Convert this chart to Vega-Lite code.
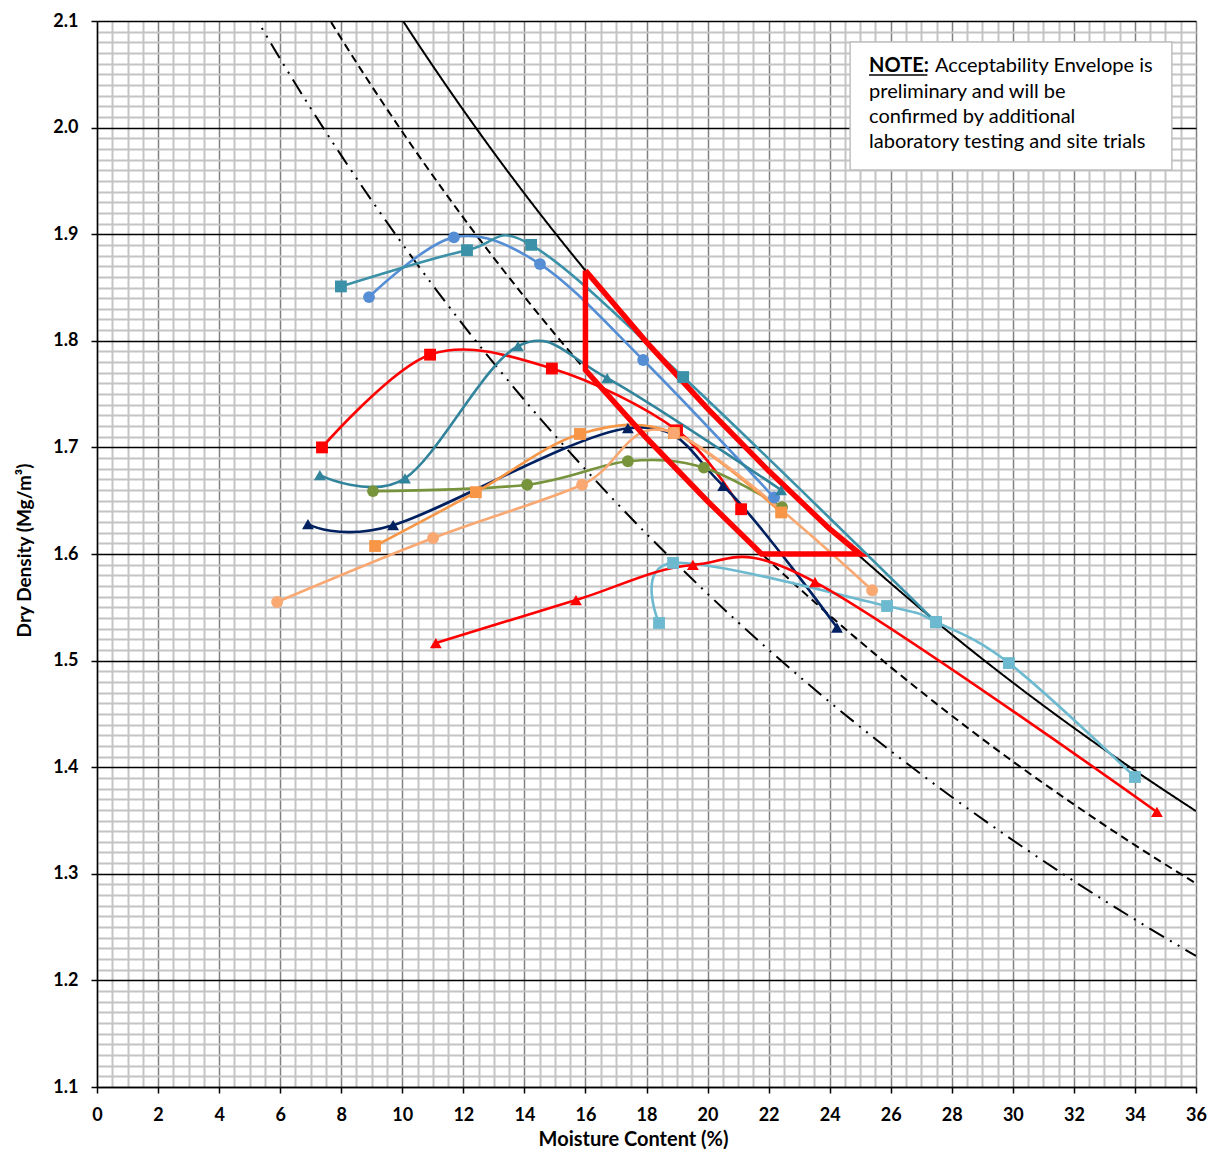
{
  "$schema": "https://vega.github.io/schema/vega-lite/v6.json",
  "width": 1099,
  "height": 1066,
  "autosize": {"type": "none"},
  "padding": {"left": 97, "top": 21, "right": 13, "bottom": 66},
  "background": "white",
  "config": {"view": {"stroke": null}, "font": "Lato"},
  "datasets": {
    "ref": [
      {"line": "0%", "w": 9, "rho": 2.1462}, {"line": "0%", "w": 10, "rho": 2.1011}, {"line": "0%", "w": 11, "rho": 2.0579},
      {"line": "0%", "w": 12, "rho": 2.0164}, {"line": "0%", "w": 13, "rho": 1.9765}, {"line": "0%", "w": 14, "rho": 1.9382},
      {"line": "0%", "w": 16, "rho": 1.8659}, {"line": "0%", "w": 18, "rho": 1.7988}, {"line": "0%", "w": 20, "rho": 1.7363},
      {"line": "0%", "w": 22, "rho": 1.6780}, {"line": "0%", "w": 24, "rho": 1.6235}, {"line": "0%", "w": 26, "rho": 1.5725},
      {"line": "0%", "w": 28, "rho": 1.5245}, {"line": "0%", "w": 30, "rho": 1.4794}, {"line": "0%", "w": 32, "rho": 1.4369},
      {"line": "0%", "w": 34, "rho": 1.3968}, {"line": "0%", "w": 36, "rho": 1.3588},
      {"line": "5%", "w": 7, "rho": 2.1303}, {"line": "5%", "w": 8, "rho": 2.0836}, {"line": "5%", "w": 9, "rho": 2.0389},
      {"line": "5%", "w": 10, "rho": 1.9961}, {"line": "5%", "w": 12, "rho": 1.9155}, {"line": "5%", "w": 14, "rho": 1.8413},
      {"line": "5%", "w": 16, "rho": 1.7726}, {"line": "5%", "w": 18, "rho": 1.7088}, {"line": "5%", "w": 20, "rho": 1.6495},
      {"line": "5%", "w": 22, "rho": 1.5941}, {"line": "5%", "w": 24, "rho": 1.5424}, {"line": "5%", "w": 26, "rho": 1.4939},
      {"line": "5%", "w": 28, "rho": 1.4483}, {"line": "5%", "w": 30, "rho": 1.4054}, {"line": "5%", "w": 32, "rho": 1.3651},
      {"line": "5%", "w": 34, "rho": 1.3269}, {"line": "5%", "w": 36, "rho": 1.2909},
      {"line": "10%", "w": 5, "rho": 2.1130}, {"line": "10%", "w": 6, "rho": 2.0645}, {"line": "10%", "w": 7, "rho": 2.0182},
      {"line": "10%", "w": 8, "rho": 1.9739}, {"line": "10%", "w": 10, "rho": 1.8910}, {"line": "10%", "w": 12, "rho": 1.8147},
      {"line": "10%", "w": 14, "rho": 1.7444}, {"line": "10%", "w": 16, "rho": 1.6793}, {"line": "10%", "w": 18, "rho": 1.6189},
      {"line": "10%", "w": 20, "rho": 1.5627}, {"line": "10%", "w": 22, "rho": 1.5102}, {"line": "10%", "w": 24, "rho": 1.4612},
      {"line": "10%", "w": 26, "rho": 1.4152}, {"line": "10%", "w": 28, "rho": 1.3721}, {"line": "10%", "w": 30, "rho": 1.3315},
      {"line": "10%", "w": 32, "rho": 1.2932}, {"line": "10%", "w": 34, "rho": 1.2571}, {"line": "10%", "w": 36, "rho": 1.2229}
    ],
    "env": [
      {"i": 0, "w": 16, "rho": 1.8659}, {"i": 1, "w": 16, "rho": 1.7726}, {"i": 2, "w": 18, "rho": 1.7088},
      {"i": 3, "w": 20, "rho": 1.6495}, {"i": 4, "w": 21.77, "rho": 1.6}, {"i": 5, "w": 25, "rho": 1.6},
      {"i": 6, "w": 24, "rho": 1.6235}, {"i": 7, "w": 22, "rho": 1.678}, {"i": 8, "w": 20, "rho": 1.7363},
      {"i": 9, "w": 18, "rho": 1.7988}, {"i": 10, "w": 16, "rho": 1.8659}
    ],
    "tests": [
      {"test": "T1", "w": 8.91, "rho": 1.841}, {"test": "T1", "w": 11.69, "rho": 1.897}, {"test": "T1", "w": 14.51, "rho": 1.872},
      {"test": "T1", "w": 17.89, "rho": 1.782}, {"test": "T1", "w": 22.18, "rho": 1.653},
      {"test": "T2", "w": 7.99, "rho": 1.851}, {"test": "T2", "w": 12.12, "rho": 1.885}, {"test": "T2", "w": 14.22, "rho": 1.89},
      {"test": "T2", "w": 19.2, "rho": 1.766}, {"test": "T2", "w": 27.48, "rho": 1.536},
      {"test": "T3", "w": 7.37, "rho": 1.7}, {"test": "T3", "w": 10.91, "rho": 1.787}, {"test": "T3", "w": 14.9, "rho": 1.774},
      {"test": "T3", "w": 19.0, "rho": 1.716}, {"test": "T3", "w": 21.1, "rho": 1.642},
      {"test": "T4", "w": 7.3, "rho": 1.674}, {"test": "T4", "w": 10.09, "rho": 1.671}, {"test": "T4", "w": 13.79, "rho": 1.795},
      {"test": "T4", "w": 16.71, "rho": 1.765}, {"test": "T4", "w": 22.41, "rho": 1.66},
      {"test": "T5", "w": 6.91, "rho": 1.628}, {"test": "T5", "w": 9.7, "rho": 1.627}, {"test": "T5", "w": 17.39, "rho": 1.718},
      {"test": "T5", "w": 20.51, "rho": 1.664}, {"test": "T5", "w": 24.24, "rho": 1.531},
      {"test": "T6", "w": 9.04, "rho": 1.659}, {"test": "T6", "w": 14.09, "rho": 1.665}, {"test": "T6", "w": 17.39, "rho": 1.687},
      {"test": "T6", "w": 19.88, "rho": 1.681}, {"test": "T6", "w": 22.44, "rho": 1.644},
      {"test": "T7", "w": 9.11, "rho": 1.6075}, {"test": "T7", "w": 12.41, "rho": 1.658}, {"test": "T7", "w": 15.82, "rho": 1.7126},
      {"test": "T7", "w": 18.9, "rho": 1.7135}, {"test": "T7", "w": 22.41, "rho": 1.639},
      {"test": "T8", "w": 5.9, "rho": 1.555}, {"test": "T8", "w": 11.01, "rho": 1.615}, {"test": "T8", "w": 15.89, "rho": 1.665},
      {"test": "T8", "w": 18.9, "rho": 1.7135}, {"test": "T8", "w": 25.39, "rho": 1.566},
      {"test": "T9", "w": 18.41, "rho": 1.5353}, {"test": "T9", "w": 18.87, "rho": 1.5916}, {"test": "T9", "w": 25.88, "rho": 1.5512},
      {"test": "T9", "w": 27.48, "rho": 1.5362}, {"test": "T9", "w": 29.87, "rho": 1.4977}, {"test": "T9", "w": 34.0, "rho": 1.3908},
      {"test": "T10", "w": 11.1, "rho": 1.5165}, {"test": "T10", "w": 15.69, "rho": 1.5568}, {"test": "T10", "w": 19.52, "rho": 1.5897},
      {"test": "T10", "w": 23.52, "rho": 1.5737}, {"test": "T10", "w": 34.72, "rho": 1.358}
    ]
  },
  "layer": [
    {
      "data": {"name": "ref"},
      "mark": {"type": "line", "clip": true, "strokeWidth": 2, "color": "#000000", "interpolate": "monotone"},
      "encoding": {
        "x": {
          "field": "w", "type": "quantitative",
          "scale": {"domain": [0, 36], "nice": false, "zero": false},
          "axis": {
            "title": "Moisture Content (%)",
            "values": [0,0.5,1,1.5,2,2.5,3,3.5,4,4.5,5,5.5,6,6.5,7,7.5,8,8.5,9,9.5,10,10.5,11,11.5,12,12.5,13,13.5,14,14.5,15,15.5,16,16.5,17,17.5,18,18.5,19,19.5,20,20.5,21,21.5,22,22.5,23,23.5,24,24.5,25,25.5,26,26.5,27,27.5,28,28.5,29,29.5,30,30.5,31,31.5,32,32.5,33,33.5,34,34.5,35,35.5,36],
            "tickCount": 500,
            "labelExpr": "datum.value % 2 === 0 ? format(datum.value, 'd') : ''",
            "labelOverlap": false, "labelFlush": false, "labelBound": false,
            "labelFont": "Lato", "labelFontSize": 18, "labelFontWeight": "bold", "labelColor": "#000000",
            "labelBaseline": "alphabetic", "labelPadding": 27,
            "tickSize": 6, "tickWidth": 1.5, "tickColor": "#000000",
            "tickOpacity": {"condition": {"test": "datum.value % 2 === 0", "value": 1}, "value": 0},
            "domainColor": "#000000", "domainWidth": 1.5,
            "grid": true,
            "gridColor": {"condition": {"test": "datum.value % 2 === 0", "value": "#808080"}, "value": "#c4c4c4"},
            "gridWidth": {"condition": {"test": "datum.value % 2 === 0", "value": 1.5}, "value": 2},
            "titleFont": "Lato", "titleFontSize": 20, "titleFontWeight": "bold", "titleColor": "#000000",
            "titleX": 536, "titleY": 58, "titleBaseline": "alphabetic", "titleAlign": "center"
          }
        },
        "y": {
          "field": "rho", "type": "quantitative",
          "scale": {"domain": [1.1, 2.1], "nice": false, "zero": false},
          "axis": {
            "title": "Dry Density (Mg/m³)",
            "values": [1.1,1.11,1.12,1.13,1.14,1.15,1.16,1.17,1.18,1.19,1.2,1.21,1.22,1.23,1.24,1.25,1.26,1.27,1.28,1.29,1.3,1.31,1.32,1.33,1.34,1.35,1.36,1.37,1.38,1.39,1.4,1.41,1.42,1.43,1.44,1.45,1.46,1.47,1.48,1.49,1.5,1.51,1.52,1.53,1.54,1.55,1.56,1.57,1.58,1.59,1.6,1.61,1.62,1.63,1.64,1.65,1.66,1.67,1.68,1.69,1.7,1.71,1.72,1.73,1.74,1.75,1.76,1.77,1.78,1.79,1.8,1.81,1.82,1.83,1.84,1.85,1.86,1.87,1.88,1.89,1.9,1.91,1.92,1.93,1.94,1.95,1.96,1.97,1.98,1.99,2.0,2.01,2.02,2.03,2.04,2.05,2.06,2.07,2.08,2.09,2.1],
            "tickCount": 500,
            "labelExpr": "round(datum.value*100) % 10 === 0 ? format(datum.value, '.1f') : ''",
            "labelOverlap": false, "labelFlush": false, "labelBound": false,
            "labelFont": "Lato", "labelFontSize": 18, "labelFontWeight": "bold", "labelColor": "#000000",
            "labelBaseline": "middle", "labelPadding": 13,
            "tickSize": 6, "tickWidth": 1.5, "tickColor": "#000000",
            "tickOpacity": {"condition": {"test": "round(datum.value*100) % 10 === 0", "value": 1}, "value": 0},
            "domainColor": "#000000", "domainWidth": 1.5,
            "grid": true,
            "gridColor": {"condition": {"test": "round(datum.value*100) % 10 === 0", "value": "#000000"}, "value": "#c4c4c4"},
            "gridWidth": {"condition": {"test": "round(datum.value*100) % 10 === 0", "value": 1.3}, "value": 2},
            "titleFont": "Lato", "titleFontSize": 19, "titleFontWeight": "bold", "titleColor": "#000000",
            "titleX": -67, "titleY": 529, "titleBaseline": "alphabetic", "titleAlign": "center", "titleAngle": -90
          }
        },
        "detail": {"field": "line", "type": "nominal"},
        "strokeDash": {
          "field": "line", "type": "nominal",
          "scale": {"domain": ["0%", "5%", "10%"], "range": [[1, 0], [8, 5], [17, 7, 2, 7, 2, 7]]},
          "legend": null
        }
      }
    },
    {
      "data": {"name": "tests"},
      "mark": {"type": "line", "clip": true, "strokeWidth": 2.6, "interpolate": "cardinal"},
      "encoding": {
        "x": {"field": "w", "type": "quantitative"},
        "y": {"field": "rho", "type": "quantitative"},
        "color": {
          "field": "test", "type": "nominal",
          "scale": {
            "domain": ["T1", "T2", "T3", "T4", "T5", "T6", "T7", "T8", "T9", "T10"],
            "range": ["#558ED5", "#3A91A8", "#FF0000", "#31849B", "#002060", "#77933C", "#F79646", "#F9A872", "#6DB9CF", "#FF0000"]
          },
          "legend": null
        }
      }
    },
    {
      "data": {"name": "env"},
      "mark": {"type": "line", "clip": true, "strokeWidth": 5.5, "color": "#FF0000", "strokeJoin": "miter"},
      "encoding": {
        "x": {"field": "w", "type": "quantitative"},
        "y": {"field": "rho", "type": "quantitative"},
        "order": {"field": "i", "type": "quantitative"}
      }
    },
    {
      "data": {"name": "tests"},
      "mark": {"type": "point", "filled": true, "opacity": 1, "strokeWidth": 0},
      "encoding": {
        "x": {"field": "w", "type": "quantitative"},
        "y": {"field": "rho", "type": "quantitative"},
        "color": {"field": "test", "type": "nominal", "legend": null},
        "shape": {
          "field": "test", "type": "nominal",
          "scale": {
            "domain": ["T1", "T2", "T3", "T4", "T5", "T6", "T7", "T8", "T9", "T10"],
            "range": ["circle", "square", "square", "triangle-up", "triangle-up", "circle", "square", "circle", "square", "triangle-up"]
          },
          "legend": null
        },
        "size": {
          "field": "test", "type": "nominal",
          "scale": {
            "domain": ["T1", "T2", "T3", "T4", "T5", "T6", "T7", "T8", "T9", "T10"],
            "range": [140, 140, 140, 210, 210, 140, 140, 140, 140, 210]
          },
          "legend": null
        }
      }
    },
    {
      "data": {"values": [{}]},
      "mark": {"type": "rect", "fill": "#ffffff", "stroke": "#bfbfbf", "strokeWidth": 1.5},
      "encoding": {
        "x": {"datum": 24.67, "type": "quantitative"},
        "x2": {"datum": 35.21},
        "y": {"datum": 2.0803, "type": "quantitative"},
        "y2": {"datum": 1.9602}
      }
    },
    {
      "data": {"values": [{}]},
      "mark": {"type": "text", "align": "left", "baseline": "alphabetic", "font": "Lato", "fontSize": 20, "fontWeight": "bold", "color": "#000000"},
      "encoding": {
        "x": {"datum": 25.29, "type": "quantitative"},
        "y": {"datum": 2.0522, "type": "quantitative"},
        "text": {"value": "NOTE:"}
      }
    },
    {
      "data": {"values": [{}]},
      "mark": {"type": "rule", "color": "#000000", "strokeWidth": 1.5},
      "encoding": {
        "x": {"datum": 25.29, "type": "quantitative"},
        "x2": {"datum": 27.2},
        "y": {"datum": 2.0493, "type": "quantitative"}
      }
    },
    {
      "data": {"values": [{}]},
      "mark": {"type": "text", "align": "left", "baseline": "alphabetic", "font": "Lato", "fontSize": 20, "color": "#000000"},
      "encoding": {
        "x": {"datum": 27.45, "type": "quantitative"},
        "y": {"datum": 2.0522, "type": "quantitative"},
        "text": {"value": "Acceptability Envelope is"}
      }
    },
    {
      "data": {"values": [{}]},
      "mark": {"type": "text", "align": "left", "baseline": "alphabetic", "font": "Lato", "fontSize": 20, "color": "#000000"},
      "encoding": {
        "x": {"datum": 25.29, "type": "quantitative"},
        "y": {"datum": 2.0278, "type": "quantitative"},
        "text": {"value": "preliminary and will be"}
      }
    },
    {
      "data": {"values": [{}]},
      "mark": {"type": "text", "align": "left", "baseline": "alphabetic", "font": "Lato", "fontSize": 20, "color": "#000000"},
      "encoding": {
        "x": {"datum": 25.29, "type": "quantitative"},
        "y": {"datum": 2.0043, "type": "quantitative"},
        "text": {"value": "confirmed by additional"}
      }
    },
    {
      "data": {"values": [{}]},
      "mark": {"type": "text", "align": "left", "baseline": "alphabetic", "font": "Lato", "fontSize": 20, "color": "#000000"},
      "encoding": {
        "x": {"datum": 25.29, "type": "quantitative"},
        "y": {"datum": 1.9809, "type": "quantitative"},
        "text": {"value": "laboratory testing and site trials"}
      }
    }
  ]
}
